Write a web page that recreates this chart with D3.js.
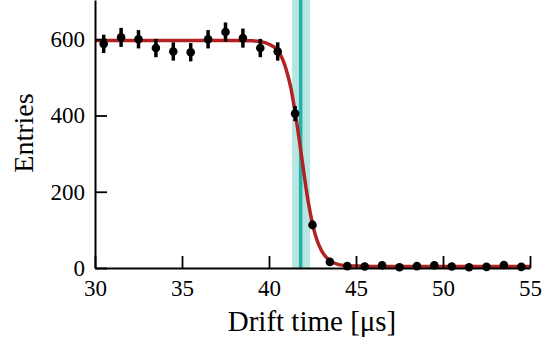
<!DOCTYPE html>
<html>
<head>
<meta charset="utf-8">
<script src="https://cdn.jsdelivr.net/npm/d3@7"></script>
<style>
  body { margin: 0; background: #fff; }
  text { font-family: "Liberation Serif", "DejaVu Serif", serif; fill: #000; }
</style>
</head>
<body>
<svg id="chart"></svg>
<script>
const binCenters = [30.5, 31.5, 32.5, 33.5, 34.5, 35.5, 36.5, 37.5, 38.5, 39.5, 40.5, 41.5, 42.5,
                    43.5, 44.5, 45.5, 46.5, 47.5, 48.5, 49.5, 50.5, 51.5, 52.5, 53.5, 54.5];
const entries = [588, 605, 600, 577, 568, 566, 600, 619, 603, 577, 568, 405, 113,
                 16, 5, 4, 7, 2, 5, 7, 4, 2, 3, 8, 3];
const entryErrors = [24, 25, 24, 24, 24, 24, 24, 25, 25, 24, 24, 20, 11,
                     4, 2, 2, 3, 1, 2, 3, 2, 1, 2, 3, 2];

// fitted edge
const fitTime = [30, 38, 39, 39.5, 40, 40.5, 41, 41.25, 41.5, 41.75, 42, 42.25, 42.5, 42.75, 43, 43.5, 44, 44.5, 45, 46, 55];
const fitValue = [597, 597, 596, 594, 587, 571, 519, 474, 409, 333, 251, 175, 116, 74, 47, 19, 9, 6, 5, 4, 4];

// drift time edge with its uncertainty band
const edgeTime = 41.82;
const edgeBand = [41.32, 42.36];

const xTicks = [30, 35, 40, 45, 50, 55];
const yTicks = [0, 200, 400, 600];

const width = 554, height = 345;
const plotLeft = 95, plotRight = 530, plotTop = 0, plotBottom = 268;

const svg = d3.select("#chart")
    .attr("width", width)
    .attr("height", height);

const x = d3.scaleLinear().domain([30, 55]).range([plotLeft, plotRight]);
const y = d3.scaleLinear().domain([0, 703]).range([plotBottom, plotTop]);

// band + central line
svg.append("rect")
    .attr("x", x(edgeBand[0]))
    .attr("width", x(edgeBand[1]) - x(edgeBand[0]))
    .attr("y", plotTop)
    .attr("height", plotBottom - plotTop)
    .attr("fill", "#b9e6e3");

svg.append("line")
    .attr("x1", x(edgeTime)).attr("x2", x(edgeTime))
    .attr("y1", plotTop).attr("y2", plotBottom)
    .attr("stroke", "#22b2a9")
    .attr("stroke-width", 3.5);

// fit curve
const line = d3.line()
    .x((d, i) => x(fitTime[i]))
    .y(d => y(d))
    .curve(d3.curveMonotoneX);

svg.append("path")
    .datum(fitValue)
    .attr("d", line)
    .attr("fill", "none")
    .attr("stroke", "#b22222")
    .attr("stroke-width", 3.5);

// data points with error bars
const pts = svg.selectAll("g.pt")
    .data(entries)
    .enter()
    .append("g")
    .attr("class", "pt");

pts.append("line")
    .attr("x1", (d, i) => x(binCenters[i]))
    .attr("x2", (d, i) => x(binCenters[i]))
    .attr("y1", (d, i) => y(d - entryErrors[i]))
    .attr("y2", (d, i) => y(d + entryErrors[i]))
    .attr("stroke", "#000")
    .attr("stroke-width", 3.5);

pts.append("circle")
    .attr("cx", (d, i) => x(binCenters[i]))
    .attr("cy", d => y(d))
    .attr("r", 4.3)
    .attr("fill", "#000");

// axes
const xAxis = svg.append("g")
    .attr("transform", `translate(0,${plotBottom})`)
    .call(d3.axisBottom(x).tickValues(xTicks).tickSize(-12).tickPadding(12).tickSizeOuter(0));

const yAxis = svg.append("g")
    .attr("transform", `translate(${plotLeft},0)`)
    .call(d3.axisLeft(y).tickValues(yTicks).tickSize(-12).tickPadding(10).tickSizeOuter(0));

[xAxis, yAxis].forEach(a => {
    a.attr("font-size", null).attr("font-family", null);
    a.select(".domain").attr("stroke", "#000").attr("stroke-width", 2);
    a.selectAll(".tick line").attr("stroke", "#000").attr("stroke-width", 1.8);
    a.selectAll(".tick text").style("font-size", "23px").attr("fill", "#000");
});

svg.append("text")
    .attr("x", 312)
    .attr("y", 331)
    .attr("text-anchor", "middle")
    .style("font-size", "29px")
    .text("Drift time [μs]");

svg.append("text")
    .attr("transform", "translate(33,133) rotate(-90)")
    .attr("text-anchor", "middle")
    .style("font-size", "28px")
    .text("Entries");
</script>
</body>
</html>
